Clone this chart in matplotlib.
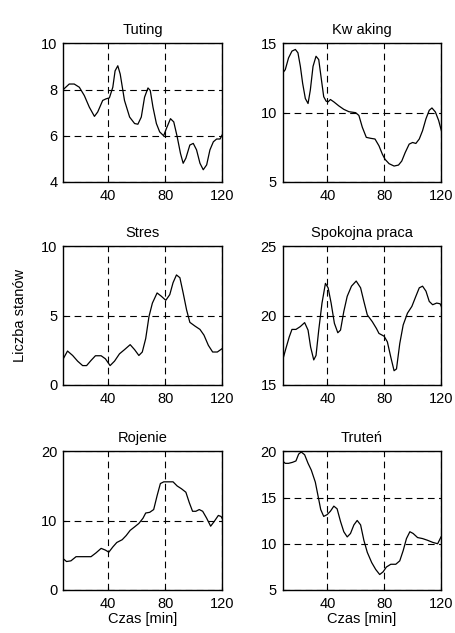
import matplotlib.pyplot as plt

plt.rcParams['font.family'] = ['Liberation Sans', 'DejaVu Sans']

# Tuting
x_tut = [8.5, 12.7, 16.2, 19.8, 23.3, 26.8, 30.4, 32.7, 36.2, 38.6, 40.9, 43.3, 44.9, 46.8, 48.5,
         51.5, 55.1, 58.6, 60.9, 63.3, 65.6, 68.0, 69.6, 71.5, 73.9, 76.2, 79.0, 80.9, 83.8, 86.1,
         88.5, 90.8, 92.7, 94.6, 97.4, 99.8, 102.1, 104.5, 106.8, 109.2, 111.5, 113.9, 116.2, 118.6, 120.0]
y_tut = [8.0, 8.24, 8.24, 8.1, 7.74, 7.24, 6.84, 7.03, 7.53, 7.6, 7.64, 8.1, 8.81, 9.03, 8.67,
         7.53, 6.81, 6.53, 6.5, 6.81, 7.67, 8.07, 7.96, 7.24, 6.53, 6.17, 6.0, 6.31, 6.74, 6.6,
         5.96, 5.24, 4.81, 5.03, 5.6, 5.67, 5.39, 4.81, 4.53, 4.74, 5.39, 5.74, 5.86, 5.86, 6.03]

# Kwaking
x_kwa = [8.5, 10.4, 12.7, 15.1, 17.5, 19.3, 21.0, 22.6, 24.5, 26.4, 28.0, 29.9, 32.0, 33.9, 35.8,
         37.4, 39.1, 40.5, 42.1, 44.5, 48.0, 51.5, 55.1, 59.8, 62.1, 64.5, 67.3, 70.4, 73.4, 76.2,
         78.6, 80.5, 83.3, 86.8, 89.9, 92.2, 94.6, 97.4, 99.8, 102.1, 104.5, 106.8, 109.2, 111.5,
         113.4, 115.8, 118.1, 120.0]
y_kwa = [12.85, 13.1, 13.95, 14.44, 14.56, 14.32, 13.34, 12.12, 11.02, 10.66, 11.63, 13.34, 14.07,
         13.83, 12.37, 11.15, 10.83, 10.78, 10.95, 10.78, 10.49, 10.24, 10.07, 10.0, 9.8, 8.95, 8.22,
         8.15, 8.1, 7.61, 7.0, 6.63, 6.32, 6.15, 6.22, 6.51, 7.12, 7.73, 7.85, 7.78, 8.1, 8.7, 9.56,
         10.17, 10.34, 10.05, 9.44, 8.7]

# Stres
x_str = [8.5, 11.5, 15.1, 18.6, 22.1, 24.9, 28.0, 31.1, 35.1, 38.1, 41.4, 44.5, 48.0, 51.5, 55.5,
         58.6, 61.6, 64.0, 66.4, 68.7, 71.1, 74.4, 77.4, 80.5, 83.3, 85.6, 88.0, 90.4, 92.7, 95.1,
         97.4, 101.0, 104.5, 107.3, 110.4, 113.4, 116.7, 120.0]
y_str = [1.88, 2.44, 2.12, 1.71, 1.39, 1.39, 1.76, 2.1, 2.1, 1.88, 1.39, 1.71, 2.24, 2.54, 2.9,
         2.54, 2.12, 2.37, 3.34, 4.93, 5.9, 6.63, 6.39, 6.1, 6.51, 7.37, 7.93, 7.73, 6.63, 5.41,
         4.51, 4.24, 4.0, 3.59, 2.85, 2.37, 2.37, 2.61]

# Spokojna praca
x_spo = [8.5, 10.8, 13.2, 15.1, 17.9, 20.9, 24.0, 26.4, 28.2, 30.4, 32.0, 33.9, 36.2, 38.6, 40.5,
         42.6, 44.9, 47.3, 49.2, 51.5, 53.9, 56.9, 60.2, 63.3, 65.6, 68.0, 71.5, 74.4, 76.2, 79.8,
         82.1, 84.5, 86.8, 88.5, 90.8, 93.2, 96.2, 99.3, 102.1, 104.5, 106.8, 109.2, 111.5, 113.9,
         116.7, 119.1, 120.0]
y_spo = [16.76, 17.61, 18.46, 19.0, 19.0, 19.2, 19.49, 18.95, 17.73, 16.8, 17.12, 18.95, 20.9, 22.32,
         22.0, 20.9, 19.44, 18.76, 18.95, 20.29, 21.39, 22.12, 22.49, 22.0, 21.02, 20.05, 19.56, 19.07,
         18.71, 18.51, 18.1, 17.0, 16.02, 16.15, 17.98, 19.32, 20.17, 20.66, 21.39, 22.0, 22.12, 21.76,
         21.02, 20.78, 20.9, 20.85, 20.66]

# Rojenie
x_roj = [8.5, 10.8, 13.9, 17.5, 22.1, 28.0, 31.5, 35.1, 38.1, 40.5, 43.3, 46.1, 49.9, 52.7, 55.5,
         58.6, 61.6, 64.5, 66.4, 69.2, 72.0, 74.4, 76.7, 79.1, 82.1, 85.6, 88.5, 91.5, 94.6, 97.0,
         99.3, 101.6, 104.0, 106.4, 109.2, 112.0, 114.4, 117.4, 119.3, 120.0]
y_roj = [4.5, 4.1, 4.2, 4.8, 4.8, 4.8, 5.35, 6.0, 5.75, 5.45, 6.2, 6.85, 7.25, 7.85, 8.6,
         9.1, 9.6, 10.35, 11.1, 11.2, 11.6, 13.6, 15.35, 15.6, 15.6, 15.6, 15.0, 14.6, 14.1, 12.6,
         11.35, 11.35, 11.6, 11.35, 10.35, 9.2, 9.85, 10.75, 10.6, 10.35]

# Truteń
x_tru = [8.5, 10.4, 12.7, 15.5, 17.9, 19.8, 21.6, 24.0, 26.4, 28.7, 31.5, 33.4, 35.3, 37.4, 39.8,
         42.1, 44.5, 46.8, 49.2, 51.5, 53.9, 56.2, 58.6, 60.9, 63.3, 65.6, 68.0, 71.1, 73.9, 76.7,
         79.1, 81.4, 84.5, 88.0, 90.8, 93.2, 95.5, 97.9, 100.2, 103.3, 106.8, 110.4, 113.9, 117.4, 120.0]
y_tru = [18.96, 18.7, 18.7, 18.81, 18.96, 19.7, 19.93, 19.63, 18.7, 17.96, 16.67, 15.19, 13.7, 12.96,
         13.15, 13.52, 14.07, 13.78, 12.41, 11.3, 10.74, 11.11, 12.04, 12.52, 12.04, 10.37, 9.07, 7.96,
         7.22, 6.67, 6.96, 7.48, 7.78, 7.78, 8.15, 9.26, 10.56, 11.3, 11.11, 10.67, 10.56, 10.37, 10.15,
         10.0, 10.81]

panels = [
    ("Tuting", x_tut, y_tut, (4, 10), [4, 6, 8, 10]),
    ("Kw aking", x_kwa, y_kwa, (5, 15), [5, 10, 15]),
    ("Stres", x_str, y_str, (0, 10), [0, 5, 10]),
    ("Spokojna praca", x_spo, y_spo, (15, 25), [15, 20, 25]),
    ("Rojenie", x_roj, y_roj, (0, 20), [0, 10, 20]),
    ("Truteń", x_tru, y_tru, (5, 20), [5, 10, 15, 20]),
]
x_ticks = [40, 80, 120]

fig = plt.figure(figsize=(4.55, 6.33), dpi=100)
lefts = [0.139, 0.621]
bottoms = [0.7125, 0.392, 0.068]
w, h = 0.349, 0.219

for i, (title, xs, ys, ylim, yt) in enumerate(panels):
    ax = fig.add_axes([lefts[i % 2], bottoms[i // 2], w, h])
    ax.plot(xs, ys, color="black", lw=0.9)
    ax.set_xlim(8.5, 120)
    ax.set_ylim(*ylim)
    ax.set_xticks(x_ticks)
    ax.set_yticks(yt)
    ax.grid(True, color="black", ls=(0, (6, 4)), lw=0.8)
    ax.tick_params(direction="in", length=2, labelsize=10.5, pad=4)
    ax.tick_params(axis="x", pad=5)
    for s in ax.spines.values():
        s.set_linewidth(1.0)
    ax.set_title(title, fontsize=10.5, pad=7)
    if i == 2:
        ax.set_ylabel("Liczba stanów", fontsize=10.5, labelpad=10)
    if i >= 4:
        ax.set_xlabel("Czas [min]", fontsize=10.5, labelpad=1)

fig.savefig("out.png", dpi=100)
plt.close(fig)
